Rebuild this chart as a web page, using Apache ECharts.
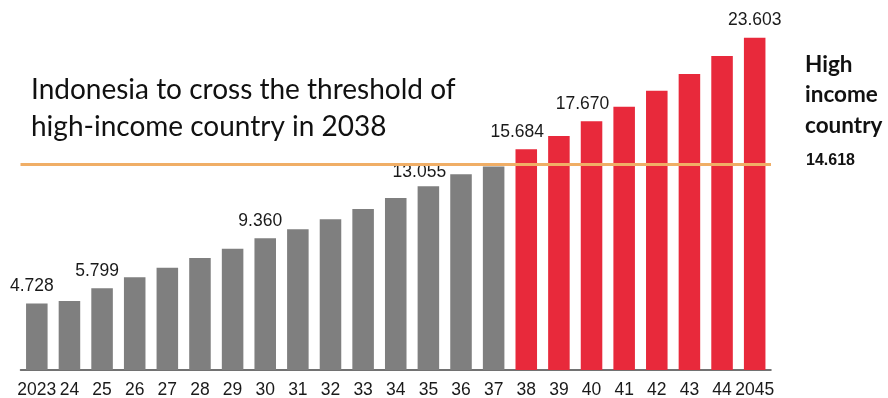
<!DOCTYPE html>
<html>
<head>
<meta charset="utf-8">
<script src="https://cdn.jsdelivr.net/npm/echarts@6/dist/echarts.min.js"></script>
<style>
  html, body { margin: 0; padding: 0; background: #fff; }
  #chart { width: 888px; height: 398px; }
</style>
</head>
<body>
<div id="chart"></div>
<script>
// GDP per capita projection (thousand USD)
const years = ['2023', '24', '25', '26', '27', '28', '29', '30', '31', '32', '33', '34', '35',
               '36', '37', '38', '39', '40', '41', '42', '43', '44', '2045'];
const gdpPerCapita = [4.728, 4.90, 5.799, 6.58, 7.27, 7.95, 8.62, 9.360, 9.99, 10.70, 11.43, 12.22,
                      13.055, 13.90, 14.45, 15.684, 16.62, 17.670, 18.70, 19.84, 21.02, 22.30, 23.603];
const labelledYears = ['2023', '25', '30', '35', '38', '40', '2045'];
const highIncomeThreshold = 14.618;
const titleLines = ['Indonesia to cross the threshold of', 'high-income country in 2038'];
const thresholdNote = ['High', 'income', 'country'];

const GREY = '#7f7f7f';
const RED = '#e8293b';
const ORANGE = '#f0ae66';

// horizontal nudges for the value labels
const labelShift = { '2023': -5, '25': -5, '30': -5, '35': -9, '38': -9, '40': -9, '2045': 0 };
// keep the 2035 label clear of the threshold line
const labelGap = { '35': 5 };

const barData = gdpPerCapita.map((v, i) => {
  const yr = years[i];
  const aboveLine = v > highIncomeThreshold;
  const item = { value: v, itemStyle: { color: aboveLine ? RED : GREY } };
  if (labelledYears.includes(yr)) {
    item.label = {
      show: true,
      position: 'top',
      distance: labelGap[yr] !== undefined ? labelGap[yr] : 8,
      offset: [labelShift[yr] || 0, 0],
      formatter: p => p.value.toFixed(3)
    };
  }
  return item;
});

const chart = echarts.init(document.getElementById('chart'), null, { renderer: 'canvas' });
chart.setOption({
  animation: false,
  backgroundColor: '#fff',
  grid: {
    left: 20.5, right: 117, top: 18, bottom: 28,
    containLabel: false,
    outerBoundsMode: 'none'
  },
  xAxis: {
    type: 'category',
    data: years,
    axisLine: { lineStyle: { color: '#444', width: 1.5 } },
    axisTick: { show: false },
    axisLabel: {
      interval: 0,
      margin: 11,
      fontFamily: 'Liberation Sans, Arial, sans-serif',
      fontSize: 17.5,
      color: '#1a1a1a'
    }
  },
  yAxis: {
    type: 'value',
    min: 0,
    max: 25,
    show: false,
    splitLine: { show: false }
  },
  series: [{
    type: 'bar',
    data: barData,
    barCategoryGap: '34%',
    label: {
      fontFamily: 'Liberation Sans, Arial, sans-serif',
      fontSize: 17.5,
      color: '#1a1a1a'
    },
    markLine: {
      silent: true,
      symbol: 'none',
      label: { show: false },
      lineStyle: { color: ORANGE, width: 3, type: 'solid' },
      data: [{ yAxis: highIncomeThreshold }]
    }
  }],
  graphic: [
    {
      type: 'text',
      left: 31,
      top: 72,
      style: {
        text: titleLines.join('\n'),
        fontFamily: 'Lato, "Open Sans", sans-serif',
        fontSize: 28,
        lineHeight: 36.5,
        fill: '#111'
      }
    },
    {
      type: 'text',
      left: 805,
      top: 49,
      style: {
        text: thresholdNote.join('\n'),
        fontFamily: 'Lato, "Open Sans", sans-serif',
        fontWeight: 'bold',
        fontSize: 22.5,
        lineHeight: 30.5,
        fill: '#111'
      }
    },
    {
      type: 'text',
      left: 806,
      top: 153,
      style: {
        text: highIncomeThreshold.toFixed(3),
        fontFamily: 'Liberation Sans, Arial, sans-serif',
        fontWeight: 'bold',
        fontSize: 16,
        fill: '#111'
      }
    }
  ]
});
</script>
</body>
</html>
